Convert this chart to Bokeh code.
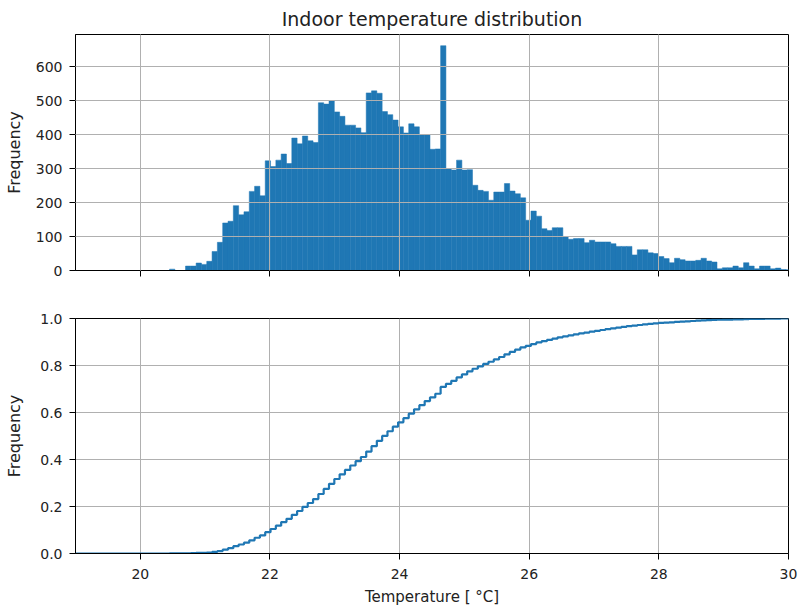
import numpy as np
from bokeh.plotting import figure
from bokeh.layouts import column
from bokeh.models import NumeralTickFormatter
from bokeh.embed import file_html
from bokeh.resources import INLINE

# histogram of indoor temperatures, bins of 0.082 C starting at 18.975 C
bin_start = 18.975
bin_width = 0.082
counts = [0, 0, 0, 0, 0, 0, 0, 0, 0, 0, 0, 0, 0, 0, 0, 0, 0, 0,
          4, 0, 0, 13, 13, 22, 18, 27, 56, 83, 140, 145, 191, 164, 173, 233, 248, 220,
          323, 306, 325, 343, 315, 390, 373, 396, 382, 377,
          494, 490, 499, 467, 454, 428, 428, 420, 406,
          523, 529, 522, 468, 459, 443, 423, 405, 432, 423, 400, 400, 357, 358,
          662,
          300, 296, 325, 296, 297, 251, 236, 233, 207, 231, 231, 256, 234, 226, 214,
          148, 175, 160, 123, 118, 126, 126, 99, 92, 94, 94, 82, 89, 84, 84, 84,
          79, 71, 71, 71, 46, 61, 61, 52,
          50, 41, 35, 23, 36, 32, 28, 28, 30, 36, 28, 25, 5, 8, 8, 13, 8, 23, 13,
          5, 13, 13, 5, 7, 3, 2]
x_ticks = [20, 22, 24, 26, 28, 30]
hist_ticks = [0, 100, 200, 300, 400, 500, 600]
cdf_ticks = [0.0, 0.2, 0.4, 0.6, 0.8, 1.0]

lefts = bin_start + bin_width * np.arange(len(counts))
rights = lefts + bin_width
cdf = np.cumsum(counts) / np.sum(counts)   # cumulative frequency

FONT = "DejaVu Sans"
BLUE = "#1f77b4"
TXT = "#222222"


def style(p, label_standoff):
    p.outline_line_color = "black"
    p.outline_line_width = 1
    p.grid.grid_line_color = "#b0b0b0"
    p.grid.grid_line_width = 1
    p.xaxis.ticker = x_ticks
    for ax in [p.xaxis[0], p.yaxis[0]]:
        ax.axis_line_color = "black"
        ax.major_tick_line_color = "black"
        ax.major_tick_out = 6
        ax.major_tick_in = 0
        ax.minor_tick_line_color = None
        ax.major_label_text_font = FONT
        ax.major_label_text_font_size = "14px"
        ax.major_label_text_color = TXT
        ax.axis_label_text_font = FONT
        ax.axis_label_text_font_style = "normal"
        ax.axis_label_text_color = TXT
    p.xaxis.major_label_standoff = 9
    p.yaxis.major_label_standoff = 7
    p.xaxis.axis_label_text_font_size = "15px"
    p.yaxis.axis_label_text_font_size = "16px"
    p.yaxis.axis_label = "Frequency"
    p.yaxis.axis_label_standoff = label_standoff


# top: histogram
p1 = figure(width=798, height=290, x_range=(19, 30), y_range=(0, 695),
            title="Indoor temperature distribution",
            output_backend="svg", toolbar_location=None, tools="",
            min_border_left=75, min_border_right=10, min_border_top=34, min_border_bottom=20)
p1.quad(left=lefts, right=rights, top=counts, bottom=0,
        fill_color=BLUE, line_color=BLUE, line_width=0.5)
style(p1, 9)
p1.yaxis.ticker = hist_ticks
p1.xaxis.major_label_overrides = {t: "" for t in x_ticks}
p1.grid.level = "overlay"
p1.title.align = "center"
p1.title.text_font = FONT
p1.title.text_font_size = "19px"
p1.title.text_font_style = "normal"
p1.title.text_color = TXT
p1.title.standoff = 9

# bottom: cumulative
p2 = figure(width=798, height=318, x_range=p1.x_range, y_range=(0, 1.0),
            output_backend="svg", toolbar_location=None, tools="",
            min_border_left=75, min_border_right=10, min_border_top=28, min_border_bottom=54)
p2.step(x=list(lefts) + [rights[-1]], y=list(cdf) + [cdf[-1]], mode="after",
        line_color=BLUE, line_width=2.2)
style(p2, 13)
p2.yaxis.ticker = cdf_ticks
p2.yaxis.formatter = NumeralTickFormatter(format="0.0")
p2.xaxis.axis_label = "Temperature [ °C]"
p2.xaxis.axis_label_standoff = 6

layout = column(p1, p2)
open("out.html", "w").write(file_html(layout, INLINE))
